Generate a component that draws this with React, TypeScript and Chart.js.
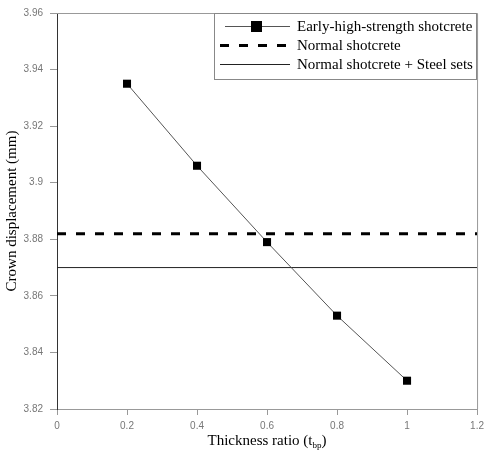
import React, { useEffect, useRef } from "react";
import { Chart, registerables } from "chart.js";

Chart.register(...registerables);

const thicknessRatio = [0.2, 0.4, 0.6, 0.8, 1.0];
const earlyHighStrength = [3.935, 3.906, 3.879, 3.853, 3.83];
const refLineX = [0, 1.2];
const normalShotcrete = [3.882, 3.882];
const normalSteelSets = [3.87, 3.87];
const seriesNames = [
  "Early-high-strength shotcrete",
  "Normal shotcrete",
  "Normal shotcrete + Steel sets",
];
const xTickLabels = ["0", "0.2", "0.4", "0.6", "0.8", "1", "1.2"];
const yTickLabels = ["3.82", "3.84", "3.86", "3.88", "3.9", "3.92", "3.94", "3.96"];
const xTitleMain = "Thickness ratio (t";
const xTitleSub = "bp";
const xTitleEnd = ")";
const yTitle = "Crown displacement (mm)";

const SERIF = "'Liberation Serif', 'Times New Roman', serif";
const SANS = "'Liberation Sans', Arial, sans-serif";

const frameAndLegend = {
  id: "frameAndLegend",
  afterDraw(chart: any) {
    const { ctx, chartArea } = chart;
    const { left, right, top, bottom } = chartArea;
    ctx.save();
    // top and right frame
    ctx.strokeStyle = "#999999";
    ctx.lineWidth = 1;
    ctx.beginPath();
    ctx.moveTo(left, top + 0.5);
    ctx.lineTo(right + 0.5, top + 0.5);
    ctx.lineTo(right + 0.5, bottom);
    ctx.stroke();

    // x-axis title with subscript
    ctx.fillStyle = "#000000";
    ctx.textBaseline = "alphabetic";
    ctx.textAlign = "left";
    const mainFont = `15px ${SERIF}`;
    const subFont = `9px ${SERIF}`;
    ctx.font = mainFont;
    const w1 = ctx.measureText(xTitleMain).width;
    const w3 = ctx.measureText(xTitleEnd).width;
    ctx.font = subFont;
    const w2 = ctx.measureText(xTitleSub).width;
    const total = w1 + w2 + w3;
    const cx = (left + right) / 2;
    let tx = cx - total / 2;
    const baseY = 445;
    ctx.font = mainFont;
    ctx.fillText(xTitleMain, tx, baseY);
    tx += w1;
    ctx.font = subFont;
    ctx.fillText(xTitleSub, tx, baseY + 3);
    tx += w2;
    ctx.font = mainFont;
    ctx.fillText(xTitleEnd, tx, baseY);

    // legend box
    const bx = 214.5, by = 13.5, bw = 262, bh = 66;
    ctx.fillStyle = "#ffffff";
    ctx.fillRect(bx, by, bw, bh);
    ctx.strokeStyle = "#888888";
    ctx.strokeRect(bx, by, bw, bh);

    const rows = [26, 45, 64];
    const ds = chart.data.datasets;
    ctx.font = `15px ${SERIF}`;
    ctx.textBaseline = "middle";
    ctx.textAlign = "left";
    ds.forEach((d: any, i: number) => {
      const y = rows[i] + 0.5;
      ctx.save();
      ctx.strokeStyle = d.borderColor;
      ctx.lineWidth = d.borderWidth;
      ctx.setLineDash(d.borderDash || []);
      ctx.beginPath();
      ctx.moveTo(i === 0 ? 225 : 220, y);
      ctx.lineTo(290, y);
      ctx.stroke();
      ctx.restore();
      if (d.pointRadius > 0) {
        ctx.fillStyle = d.pointBackgroundColor;
        ctx.fillRect(251, rows[i] - 5, 11, 11);
      }
      ctx.fillStyle = "#000000";
      ctx.fillText(d.label, 297, rows[i] + 1);
    });
    ctx.restore();
  },
};

export default function App() {
  const ref = useRef<HTMLCanvasElement>(null);
  useEffect(() => {
    if (!ref.current) return;
    const chart = new Chart(ref.current, {
      type: "line",
      data: {
        datasets: [
          {
            label: seriesNames[0],
            data: thicknessRatio.map((x, i) => ({ x, y: earlyHighStrength[i] })),
            borderColor: "#555555",
            borderWidth: 1,
            pointStyle: "rect",
            pointRadius: 5.7,
            pointBackgroundColor: "#000000",
            pointBorderColor: "#000000",
            pointBorderWidth: 0,
            tension: 0,
          },
          {
            label: seriesNames[1],
            data: refLineX.map((x, i) => ({ x, y: normalShotcrete[i] })),
            borderColor: "#000000",
            borderWidth: 3,
            borderDash: [9, 10],
            pointRadius: 0,
            tension: 0,
          },
          {
            label: seriesNames[2],
            data: refLineX.map((x, i) => ({ x, y: normalSteelSets[i] })),
            borderColor: "#222222",
            borderWidth: 1,
            pointRadius: 0,
            tension: 0,
          },
        ],
      },
      options: {
        responsive: false,
        animation: false,
        layout: { padding: { left: 0, right: 8, top: 10, bottom: 0 } },
        plugins: { legend: { display: false }, tooltip: { enabled: false } },
        scales: {
          x: {
            type: "linear",
            min: 0,
            max: 1.2,
            afterFit: (s: any) => {
              s.height = 43;
            },
            ticks: {
              stepSize: 0.2,
              color: "#777777",
              font: { family: SANS, size: 10 },
              padding: 5,
              maxRotation: 0,
              callback: (_v: any, i: number) => xTickLabels[i],
            },
            grid: {
              drawOnChartArea: false,
              drawTicks: true,
              tickLength: 6,
              color: "#999999",
            },
            border: { display: true, color: "#999999" },
            title: { display: false },
          },
          y: {
            type: "linear",
            min: 3.82,
            max: 3.96,
            afterFit: (s: any) => {
              s.width = 57;
            },
            ticks: {
              stepSize: 0.02,
              color: "#777777",
              font: { family: SANS, size: 10 },
              padding: 7,
              callback: (_v: any, i: number) => yTickLabels[i],
            },
            grid: {
              drawOnChartArea: false,
              drawTicks: true,
              tickLength: 7,
              color: "#999999",
            },
            border: { display: true, color: "#333333" },
            title: {
              display: true,
              text: yTitle,
              color: "#000000",
              font: { family: SERIF, size: 15 },
              padding: { top: 3, bottom: 0 },
            },
          },
        },
      },
      plugins: [frameAndLegend],
    });
    return () => chart.destroy();
  }, []);
  return (
    <div style={{ position: "fixed", left: 0, top: 0, width: 489, height: 452, background: "#fff" }}>
      <canvas ref={ref} width={489} height={452} />
    </div>
  );
}
